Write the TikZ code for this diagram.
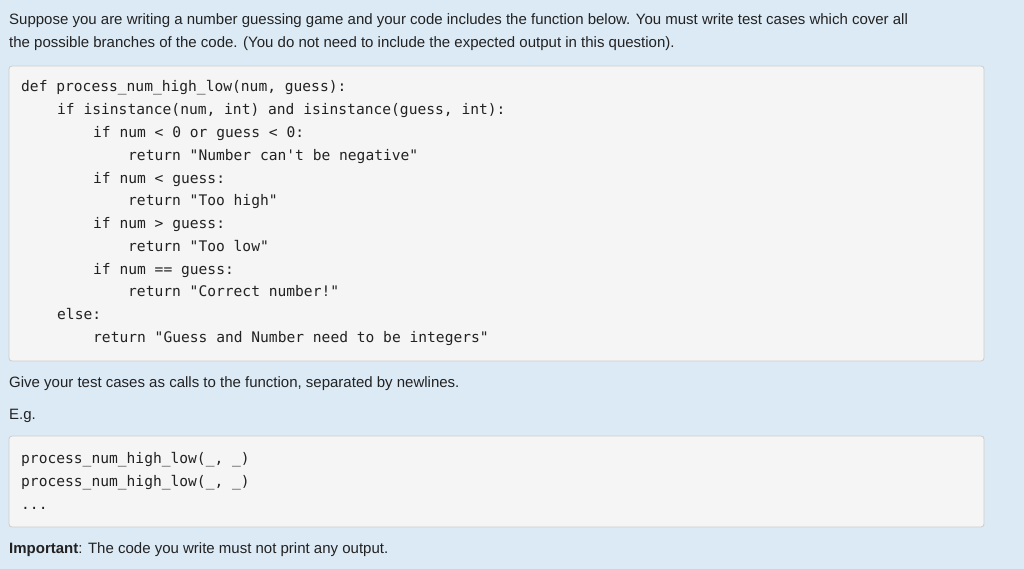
\documentclass[tikz,border=0pt]{standalone}
\usepackage{fontspec}
\setmainfont{Liberation Sans}
\newfontfamily\codefont{DejaVu Sans Mono}
\definecolor{bg}{HTML}{DCEAF5}
\definecolor{boxbg}{HTML}{F5F5F5}
\definecolor{boxline}{HTML}{CCCCCC}
\definecolor{txt}{HTML}{222222}
\begin{document}
\begin{tikzpicture}[x=1pt,y=-1pt,
  prose/.style={anchor=mid west,inner sep=0pt,font=\fontsize{15}{18}\selectfont,text=txt},
  code/.style={anchor=mid west,inner sep=0pt,font=\codefont\fontsize{14.6}{17}\selectfont,text=txt},
  codebox/.style={draw=boxline,fill=boxbg,rounded corners=3pt,line width=0.8pt}]
\useasboundingbox (0,0) rectangle (1024,569);
\fill[bg] (0,0) rectangle (1024,569);
\node[prose] (t1) at (9,22) {Suppose you are writing a number guessing game and your code includes the function below. You must write test cases which cover all};
\node[prose] (t2) at (9,45) {the possible branches of the code. (You do not need to include the expected output in this question).};
\draw[codebox] (9,66) rectangle (984,361);
\node[code] (c1) at (21,89) {def process\_num\_high\_low(num, guess):};
\node[code] (c2) at (57,112) {if isinstance(num, int) and isinstance(guess, int):};
\node[code] (c3) at (93,135) {if num < 0 or guess < 0:};
\node[code] (c4) at (128,158) {return "Number can't be negative"};
\node[code] (c5) at (93,181) {if num < guess:};
\node[code] (c6) at (128,203) {return "Too high"};
\node[code] (c7) at (93,226) {if num > guess:};
\node[code] (c8) at (128,249) {return "Too low"};
\node[code] (c9) at (93,272) {if num == guess:};
\node[code] (c10) at (128,294) {return "Correct number!"};
\node[code] (c11) at (57,317) {else:};
\node[code] (c12) at (93,340) {return "Guess and Number need to be integers"};
\node[prose] (t3) at (9,385) {Give your test cases as calls to the function, separated by newlines.};
\node[prose] (t4) at (9,417) {E.g.};
\draw[codebox] (9,436) rectangle (984,527);
\node[code] (d1) at (21,461) {process\_num\_high\_low(\_, \_)};
\node[code] (d2) at (21,484) {process\_num\_high\_low(\_, \_)};
\node[code] (d3) at (21,507) {...};
\node[prose] (t5) at (9,551) {\textbf{Important}: The code you write must not print any output.};
\end{tikzpicture}
\end{document}
